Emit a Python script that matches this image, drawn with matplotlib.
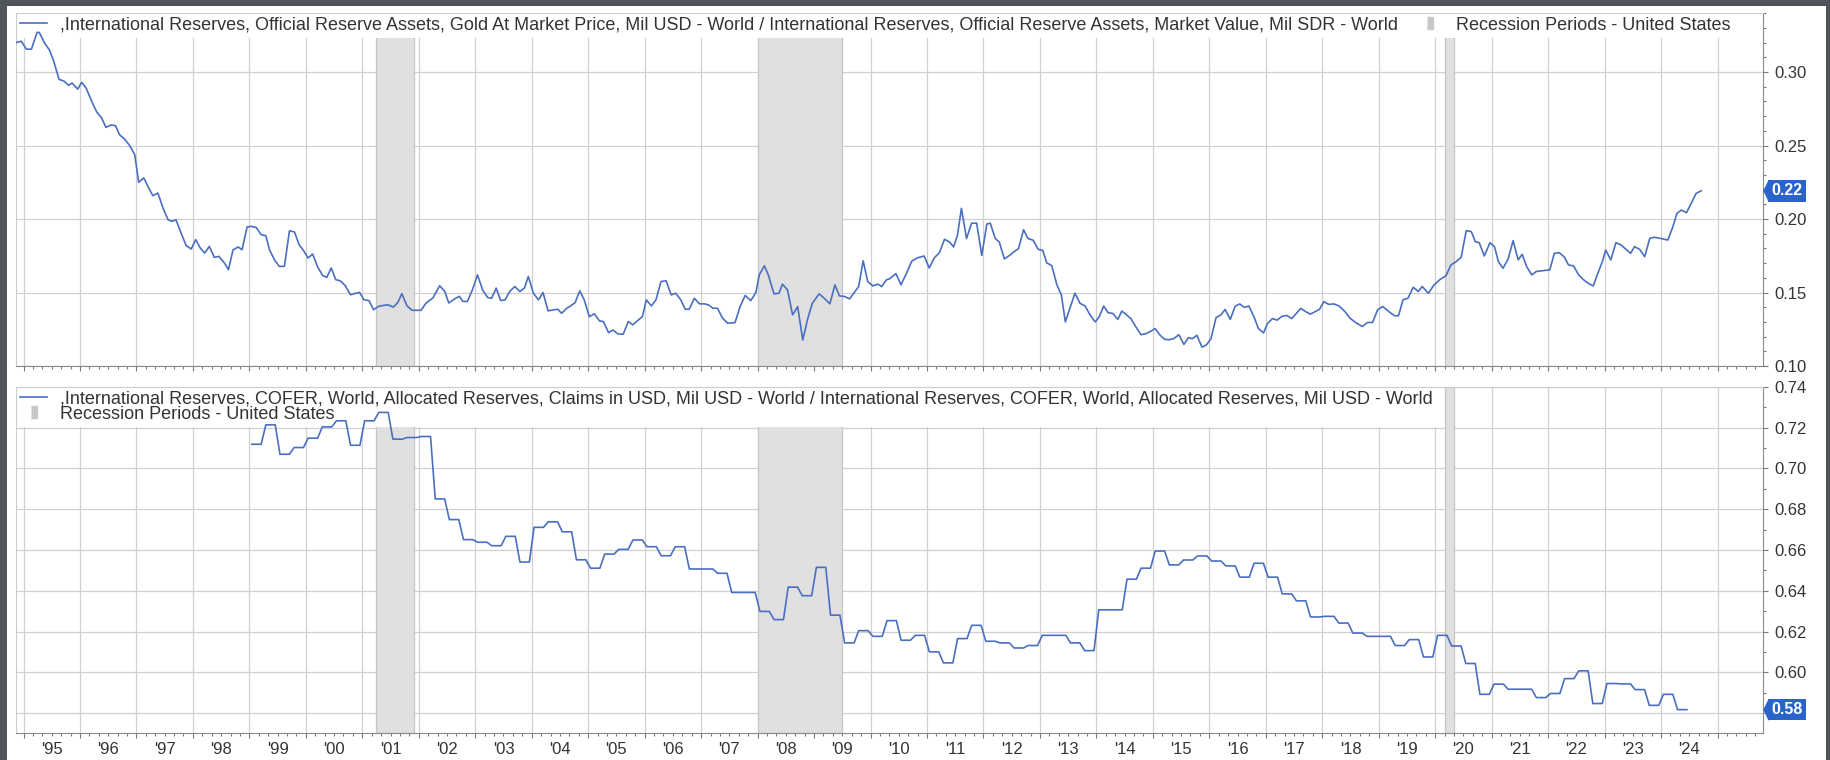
import numpy as np
import matplotlib
matplotlib.use('Agg')
import matplotlib.pyplot as plt
import matplotlib.transforms as mtransforms
from matplotlib.lines import Line2D
from matplotlib.patches import Rectangle
from matplotlib.ticker import (FixedLocator, FuncFormatter, MultipleLocator, NullFormatter)

plt.rcParams['font.family'] = ['Liberation Sans', 'DejaVu Sans']

## data ##

# gold at market price / total reserves (monthly)
gold_t = [1994.86, 1994.96, 1995.05, 1995.14, 1995.24, 1995.28, 1995.37, 1995.46, 1995.53, 1995.63,
          1995.71, 1995.80, 1995.86, 1995.96, 1996.03, 1996.11, 1996.22, 1996.30, 1996.38, 1996.46,
          1996.55, 1996.63, 1996.70, 1996.79, 1996.88, 1996.97, 1997.04, 1997.13, 1997.22, 1997.29,
          1997.38, 1997.47, 1997.56, 1997.63, 1997.70, 1997.79, 1997.88, 1997.97, 1998.05, 1998.13,
          1998.21, 1998.29, 1998.38, 1998.46, 1998.56, 1998.63, 1998.71, 1998.80, 1998.87, 1998.96,
          1999.03, 1999.12, 1999.21, 1999.29, 1999.36, 1999.45, 1999.53, 1999.62, 1999.71, 1999.80,
          1999.88, 1999.95, 2000.04, 2000.12, 2000.21, 2000.30, 2000.37, 2000.45, 2000.53, 2000.61,
          2000.70, 2000.79, 2000.86, 2000.95, 2001.03, 2001.12, 2001.20, 2001.29, 2001.45, 2001.55,
          2001.63, 2001.70, 2001.79, 2001.88, 2002.04, 2002.13, 2002.25, 2002.37, 2002.46, 2002.53,
          2002.63, 2002.72, 2002.78, 2002.86, 2002.95, 2003.04, 2003.13, 2003.22, 2003.29, 2003.37,
          2003.45, 2003.53, 2003.61, 2003.70, 2003.79, 2003.87, 2003.94, 2004.03, 2004.12, 2004.20,
          2004.29, 2004.38, 2004.46, 2004.53, 2004.62, 2004.69, 2004.77, 2004.85, 2004.93, 2005.02,
          2005.11, 2005.20, 2005.27, 2005.36, 2005.44, 2005.53, 2005.62, 2005.71, 2005.79, 2005.87,
          2005.96, 2006.03, 2006.12, 2006.20, 2006.29, 2006.38, 2006.47, 2006.55, 2006.64, 2006.72,
          2006.79, 2006.88, 2006.97, 2007.06, 2007.13, 2007.21, 2007.29, 2007.38, 2007.47, 2007.60,
          2007.69, 2007.78, 2007.88, 2007.97, 2008.03, 2008.12, 2008.19, 2008.29, 2008.38, 2008.44,
          2008.53, 2008.62, 2008.71, 2008.80, 2008.89, 2008.97, 2009.09, 2009.18, 2009.28, 2009.37,
          2009.45, 2009.54, 2009.63, 2009.79, 2009.87, 2009.95, 2010.04, 2010.13, 2010.20, 2010.28,
          2010.33, 2010.45, 2010.54, 2010.64, 2010.73, 2010.83, 2010.95, 2011.04, 2011.13, 2011.22,
          2011.31, 2011.40, 2011.47, 2011.54, 2011.61, 2011.70, 2011.79, 2011.88, 2011.97, 2012.06,
          2012.12, 2012.21, 2012.28, 2012.37, 2012.46, 2012.53, 2012.62, 2012.71, 2012.79, 2012.88,
          2012.97, 2013.05, 2013.12, 2013.21, 2013.30, 2013.38, 2013.45, 2013.54, 2013.62, 2013.71,
          2013.80, 2013.89, 2013.98, 2014.05, 2014.13, 2014.21, 2014.29, 2014.38, 2014.45, 2014.54,
          2014.61, 2014.70, 2014.79, 2014.88, 2014.96, 2015.04, 2015.13, 2015.21, 2015.29, 2015.37,
          2015.46, 2015.55, 2015.63, 2015.70, 2015.78, 2015.87, 2015.95, 2016.03, 2016.12, 2016.20,
          2016.28, 2016.37, 2016.46, 2016.54, 2016.62, 2016.70, 2016.79, 2016.87, 2016.96, 2017.03,
          2017.12, 2017.20, 2017.29, 2017.37, 2017.46, 2017.55, 2017.62, 2017.71, 2017.79, 2017.87,
          2017.95, 2018.03, 2018.11, 2018.21, 2018.30, 2018.40, 2018.49, 2018.59, 2018.71, 2018.80,
          2018.89, 2018.98, 2019.07, 2019.19, 2019.28, 2019.35, 2019.43, 2019.52, 2019.61, 2019.70,
          2019.77, 2019.88, 2019.98, 2020.09, 2020.19, 2020.28, 2020.37, 2020.46, 2020.55, 2020.64,
          2020.71, 2020.78, 2020.87, 2020.97, 2021.05, 2021.12, 2021.20, 2021.29, 2021.38, 2021.47,
          2021.54, 2021.62, 2021.71, 2021.79, 2021.91, 2022.03, 2022.11, 2022.20, 2022.29, 2022.36,
          2022.45, 2022.54, 2022.63, 2022.71, 2022.80, 2022.87, 2022.96, 2023.02, 2023.11, 2023.20,
          2023.29, 2023.38, 2023.46, 2023.53, 2023.62, 2023.71, 2023.80, 2023.88, 2023.98, 2024.12,
          2024.21, 2024.28, 2024.36, 2024.45, 2024.54, 2024.62, 2024.71]
gold_v = [0.3200, 0.3210, 0.3156, 0.3156, 0.3270, 0.3270, 0.3200, 0.3150, 0.3080, 0.2950,
          0.2940, 0.2910, 0.2925, 0.2884, 0.2930, 0.2890, 0.2790, 0.2726, 0.2690, 0.2624,
          0.2640, 0.2635, 0.2574, 0.2544, 0.2500, 0.2438, 0.2250, 0.2280, 0.2210, 0.2159,
          0.2177, 0.2075, 0.1995, 0.1984, 0.1995, 0.1905, 0.1820, 0.1796, 0.1860, 0.1803,
          0.1769, 0.1814, 0.1739, 0.1746, 0.1700, 0.1655, 0.1790, 0.1810, 0.1791, 0.1946,
          0.1950, 0.1943, 0.1893, 0.1887, 0.1787, 0.1719, 0.1678, 0.1678, 0.1920, 0.1912,
          0.1825, 0.1791, 0.1735, 0.1762, 0.1673, 0.1615, 0.1603, 0.1667, 0.1587, 0.1580,
          0.1546, 0.1485, 0.1492, 0.1501, 0.1451, 0.1444, 0.1383, 0.1406, 0.1417, 0.1401,
          0.1433, 0.1492, 0.1410, 0.1379, 0.1379, 0.1429, 0.1463, 0.1546, 0.1508, 0.1429,
          0.1456, 0.1474, 0.1439, 0.1439, 0.1518, 0.1620, 0.1518, 0.1466, 0.1461, 0.1530,
          0.1445, 0.1450, 0.1507, 0.1541, 0.1507, 0.1530, 0.1609, 0.1495, 0.1450, 0.1500,
          0.1375, 0.1382, 0.1386, 0.1359, 0.1393, 0.1409, 0.1432, 0.1511, 0.1450, 0.1336,
          0.1355, 0.1307, 0.1302, 0.1227, 0.1245, 0.1218, 0.1216, 0.1302, 0.1280, 0.1307,
          0.1336, 0.1450, 0.1409, 0.1450, 0.1575, 0.1580, 0.1484, 0.1495, 0.1450, 0.1386,
          0.1386, 0.1461, 0.1423, 0.1423, 0.1416, 0.1393, 0.1393, 0.1325, 0.1291, 0.1295,
          0.1404, 0.1480, 0.1445, 0.1500, 0.1620, 0.1682, 0.1620, 0.1491, 0.1495, 0.1557,
          0.1518, 0.1348, 0.1404, 0.1177, 0.1325, 0.1427, 0.1491, 0.1461, 0.1423, 0.1552,
          0.1477, 0.1473, 0.1457, 0.1541, 0.1716, 0.1575, 0.1545, 0.1557, 0.1541, 0.1586,
          0.1592, 0.1628, 0.1553, 0.1633, 0.1713, 0.1736, 0.1748, 0.1667, 0.1736, 0.1771,
          0.1862, 0.1844, 0.1810, 0.1890, 0.2073, 0.1867, 0.1972, 0.1972, 0.1752, 0.1966,
          0.1972, 0.1867, 0.1844, 0.1729, 0.1752, 0.1775, 0.1798, 0.1927, 0.1867, 0.1856,
          0.1794, 0.1787, 0.1702, 0.1683, 0.1553, 0.1484, 0.1300, 0.1404, 0.1495, 0.1427,
          0.1408, 0.1346, 0.1300, 0.1335, 0.1408, 0.1362, 0.1358, 0.1317, 0.1374, 0.1346,
          0.1323, 0.1266, 0.1213, 0.1220, 0.1236, 0.1255, 0.1209, 0.1181, 0.1179, 0.1186,
          0.1213, 0.1147, 0.1193, 0.1186, 0.1209, 0.1128, 0.1144, 0.1186, 0.1330, 0.1346,
          0.1385, 0.1317, 0.1408, 0.1422, 0.1399, 0.1408, 0.1335, 0.1255, 0.1225, 0.1289,
          0.1323, 0.1312, 0.1339, 0.1344, 0.1323, 0.1362, 0.1392, 0.1369, 0.1353, 0.1369,
          0.1385, 0.1438, 0.1420, 0.1422, 0.1408, 0.1371, 0.1326, 0.1296, 0.1269, 0.1296,
          0.1296, 0.1382, 0.1405, 0.1367, 0.1342, 0.1342, 0.1450, 0.1462, 0.1536, 0.1507,
          0.1541, 0.1495, 0.1552, 0.1590, 0.1613, 0.1688, 0.1710, 0.1740, 0.1921, 0.1914,
          0.1846, 0.1839, 0.1749, 0.1839, 0.1812, 0.1710, 0.1665, 0.1726, 0.1853, 0.1722,
          0.1760, 0.1676, 0.1620, 0.1643, 0.1649, 0.1654, 0.1767, 0.1771, 0.1740, 0.1688,
          0.1681, 0.1620, 0.1586, 0.1563, 0.1545, 0.1620, 0.1710, 0.1789, 0.1722, 0.1839,
          0.1824, 0.1794, 0.1767, 0.1812, 0.1794, 0.1744, 0.1869, 0.1876, 0.1869, 0.1857,
          0.1948, 0.2038, 0.2061, 0.2043, 0.2111, 0.2174, 0.2192]

# COFER: USD claims / allocated reserves, quarterly from 1999 Q1
usd_start = 1999
usd_share = [0.7118, 0.7213, 0.7069, 0.7102,
             0.7148, 0.7203, 0.7233, 0.7113,
             0.7233, 0.7274, 0.7143, 0.7151,
             0.7156, 0.6850, 0.6749, 0.6651,
             0.6638, 0.6621, 0.6667, 0.6541,
             0.6711, 0.6738, 0.6689, 0.6552,
             0.6511, 0.6580, 0.6603, 0.6649,
             0.6616, 0.6572, 0.6616, 0.6507,
             0.6507, 0.6486, 0.6392, 0.6392,
             0.6299, 0.6259, 0.6418, 0.6376,
             0.6515, 0.6281, 0.6145, 0.6205,
             0.6177, 0.6254, 0.6158, 0.6182,
             0.6101, 0.6047, 0.6166, 0.6231,
             0.6153, 0.6145, 0.6120, 0.6132,
             0.6182, 0.6182, 0.6145, 0.6107,
             0.6307, 0.6307, 0.6457, 0.6511,
             0.6595, 0.6527, 0.6551, 0.6571,
             0.6546, 0.6522, 0.6467, 0.6535,
             0.6467, 0.6385, 0.6351, 0.6272,
             0.6275, 0.6242, 0.6193, 0.6177,
             0.6177, 0.6132, 0.6161, 0.6076,
             0.6182, 0.6130, 0.6044, 0.5893,
             0.5943, 0.5918, 0.5918, 0.5877,
             0.5897, 0.5970, 0.6008, 0.5848,
             0.5946, 0.5944, 0.5916, 0.5839,
             0.5893, 0.5818]

# US recessions (start, end) as decimal years
recessions = [(2001.25, 2001.92), (2008.0, 2009.5), (2020.17, 2020.34)]

years = list(range(1995, 2025))
year_labels = ["'95", "'96", "'97", "'98", "'99", "'00", "'01", "'02", "'03", "'04",
               "'05", "'06", "'07", "'08", "'09", "'10", "'11", "'12", "'13", "'14",
               "'15", "'16", "'17", "'18", "'19", "'20", "'21", "'22", "'23", "'24"]

top_label = (",International Reserves, Official Reserve Assets, Gold At Market Price, Mil USD - World"
             " / International Reserves, Official Reserve Assets, Market Value, Mil SDR - World")
bottom_label = (",International Reserves, COFER, World, Allocated Reserves, Claims in USD, Mil USD - World"
                " / International Reserves, COFER, World, Allocated Reserves, Mil USD - World")
rec_label = 'Recession Periods - United States'

## style ##

W, H = 1831, 760
line_color = '#4a6fc0'
grid_color = '#d0d0d0'
text_color = '#333333'
badge_color = '#2a63c9'
shade_color = '#e0e0e0'
xlim = (1994.86, 2025.80)
legend_size = 13

# monthly points for the quarterly series (value held for 3 months)
usd_t = [usd_start + (i + 0.5) / 12 for i in range(3 * len(usd_share))]
usd_v = np.repeat(usd_share, 3)

fig = plt.figure(figsize=(W / 100, H / 100), dpi=100, facecolor='#50545b')
fig.add_artist(Rectangle((7 / W, 0), 1819 / W, 754 / H, transform=fig.transFigure,
                         fc='white', ec='none', zorder=0))

ax1 = fig.add_axes([15.6 / W, 1 - 366 / H, 1747.1 / W, 352.7 / H])
ax2 = fig.add_axes([15.6 / W, 1 - 732.7 / H, 1747.1 / W, 346 / H])

year_starts = list(range(1994, 2027))
minor_pos = [y + k / 6 for y in range(1994, 2026) for k in range(1, 6)]
mid_label = {round(y + 0.5, 3): lab for y, lab in zip(years, year_labels)}

tag = [(-1, 0), (0, 2), (0, -2)]

rec_handle = Line2D([], [], ls='none', marker=[(-0.25, -0.5), (0.25, -0.5), (0.25, 0.5), (-0.25, 0.5)],
                    ms=8, color='#c8c8c8')


def style_panel(ax, ylo, yhi, major, minor, last):
    ax.set_facecolor('white')
    ax.set_xlim(*xlim)
    ax.set_ylim(ylo, yhi)
    ax.yaxis.tick_right()
    ax.yaxis.set_major_locator(MultipleLocator(major))
    ax.yaxis.set_minor_locator(MultipleLocator(minor))
    # the value badge sits over the tick label it would cover
    ax.yaxis.set_major_formatter(FuncFormatter(
        lambda v, pos: '' if abs(v - last) < major / 4 else '%.2f' % v))
    ax.xaxis.set_major_locator(FixedLocator(year_starts))
    ax.xaxis.set_major_formatter(NullFormatter())
    ax.xaxis.set_minor_locator(FixedLocator(minor_pos))
    ax.xaxis.set_minor_formatter(FuncFormatter(lambda x, pos: mid_label.get(round(x, 3), '')))
    ax.grid(True, which='major', color=grid_color, lw=0.9)
    ax.set_axisbelow(True)
    for side in ['top', 'left']:
        ax.spines[side].set_color('#cccccc')
    for side in ['bottom', 'right']:
        ax.spines[side].set_color('#8a8a8a')
    ax.tick_params(axis='x', which='major', direction='out', length=3.5, width=0.8, color='#777777')
    ax.tick_params(axis='x', which='minor', direction='out', length=2, width=0.8, color='#777777',
                   pad=4.5, labelsize=12, labelcolor=text_color)
    ax.tick_params(axis='y', which='major', length=3.6, width=0.8, color='#777777', pad=4.5,
                   labelsize=12, labelcolor=text_color)
    ax.tick_params(axis='y', which='minor', length=2.2, width=0.8, color='#777777')
    for a, b in recessions:
        ax.axvspan(a, b, fc=shade_color, ec='#c6c6c6', lw=0.9, zorder=1)


def add_badge(ax, value):
    trans = mtransforms.blended_transform_factory(ax.transAxes, ax.transData)
    shift = mtransforms.ScaledTranslation(3.5 / 72, 0, fig.dpi_scale_trans)
    ax.plot([1.0], [value], ls='none', marker=tag, ms=14, color=badge_color,
            transform=trans + shift, clip_on=False, zorder=6)
    ax.annotate('%.2f' % value, xy=(1.0, value), xycoords=trans, xytext=(6.2, 0),
                textcoords='offset points', ha='left', va='center', color='white',
                fontsize=11.5, fontweight='bold', annotation_clip=False, zorder=7,
                bbox=dict(boxstyle='square,pad=0.2', fc=badge_color, ec='none'))


def add_legend(ax, label, ncol, y_anchor):
    leg = ax.legend([Line2D([], [], color=line_color, lw=1.2), rec_handle], [label, rec_label],
                    loc='upper left', bbox_to_anchor=(0, y_anchor), ncol=ncol, frameon=True,
                    fancybox=False, framealpha=1, facecolor='white', edgecolor='white',
                    borderaxespad=0, borderpad=0.25, handlelength=1.5, handletextpad=0.72,
                    columnspacing=1.0, labelspacing=-0.11, fontsize=legend_size,
                    labelcolor=text_color)
    leg.get_frame().set_linewidth(0)
    leg.set_zorder(2)
    return leg


# top panel: gold share
style_panel(ax1, 0.10, 0.34, 0.05, 0.01, gold_v[-1])
ax1.plot(gold_t, gold_v, color=line_color, lw=1.2, zorder=3)
ax1.tick_params(axis='x', which='both', labelbottom=False)
add_legend(ax1, top_label, 2, 1.0034)
add_badge(ax1, gold_v[-1])
ax1.set_xlim(*xlim)
ax1.set_ylim(0.10, 0.34)

# bottom panel: USD share of allocated reserves
style_panel(ax2, 0.5705, 0.74, 0.02, 0.01, usd_share[-1])
ax2.plot(usd_t, usd_v, color=line_color, lw=1.2, zorder=3)
add_legend(ax2, bottom_label, 1, 1.0015)
add_badge(ax2, usd_share[-1])
ax2.set_xlim(*xlim)
ax2.set_ylim(0.5705, 0.74)

fig.savefig('out.png', dpi=100, facecolor=fig.get_facecolor())
